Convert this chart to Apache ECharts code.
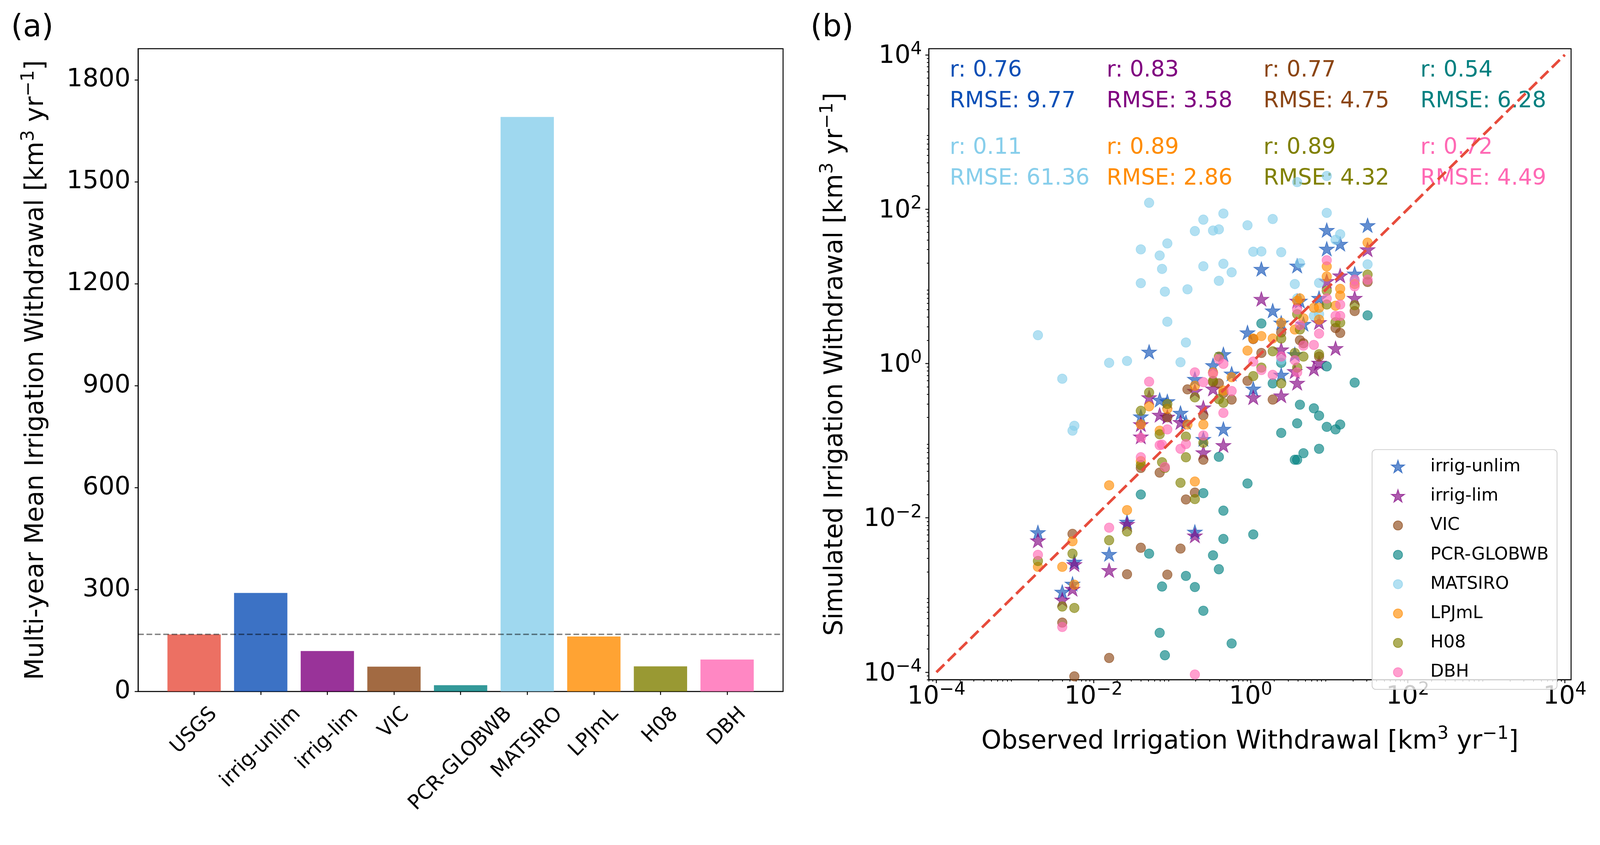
<!DOCTYPE html>
<html>
<head>
<meta charset="utf-8">
<script src="https://cdn.jsdelivr.net/npm/echarts@6.0.0/dist/echarts.min.js"></script>
<style>
  html, body { margin: 0; padding: 0; background: #fff; overflow: hidden; }
  #main { width: 100vw; height: 100vh; }
</style>
</head>
<body>
<div id="main"></div>
<script>
// ---- panel (a): multi-year mean withdrawal ----
const categories = ['USGS', 'irrig-unlim', 'irrig-lim', 'VIC', 'PCR-GLOBWB', 'MATSIRO', 'LPJmL', 'H08', 'DBH'];
const meanWithdrawal = [168, 290, 119, 73, 18.5, 1691, 162, 74, 94];
const yTicksA = [0, 300, 600, 900, 1200, 1500, 1800];

// ---- panel (b): observed vs simulated [obs, sim] ----
const seriesNames = ['irrig-unlim', 'irrig-lim', 'VIC', 'PCR-GLOBWB', 'MATSIRO', 'LPJmL', 'H08', 'DBH'];
const rValues = ['0.76', '0.83', '0.77', '0.54', '0.11', '0.89', '0.89', '0.72'];
const rmseValues = ['9.77', '3.58', '4.75', '6.28', '61.36', '2.86', '4.32', '4.49'];
const logTicks = [1e-4, 1e-2, 1, 1e2, 1e4];
const oneToOne = [1e-4, 1e4];

const irrigUnlim = [[0.00196,0.0065],[0.004,0.0011],[0.0057,0.0027],[0.0054,0.0014],[0.0158,0.0034],[0.0267,0.0089],
  [0.04,0.206],[0.051,1.42],[0.0695,0.339],[0.087,0.324],[0.128,0.229],[0.15,0.174],[0.195,0.63],[0.195,0.0066],
  [0.25,0.105],[0.332,0.95],[0.45,1.32],[0.45,0.142],[0.573,0.74],[0.912,2.53],[1.08,0.472],[1.37,16.8],[1.91,4.85],
  [2.45,3.38],[2.45,0.713],[3.65,1.32],[3.91,18.5],[4.24,6.49],[4.7,3.26],[7.43,7.06],[9.31,53.6],[9.31,30.7],
  [13.8,35.5],[21.1,14.6],[30.8,61.9]];
const irrigLim = [[0.00196,0.0051],[0.004,0.00087],[0.0057,0.0025],[0.0054,0.0012],[0.0158,0.0021],[0.0267,0.0083],
  [0.04,0.163],[0.04,0.113],[0.051,0.364],[0.0695,0.216],[0.087,0.204],[0.128,0.174],[0.195,0.44],[0.195,0.0059],
  [0.25,0.269],[0.25,0.0705],[0.332,0.472],[0.45,0.0875],[1.08,0.364],[1.37,6.87],[2.45,1.52],[2.45,0.385],
  [3.65,0.794],[3.91,6.49],[3.91,0.561],[6.38,0.855],[7.43,3.43],[7.43,1.02],[9.31,11.7],[12.05,1.58],
  [13.8,13.8],[21.1,7.06],[30.8,30.1]];
const vic = [[0.004,0.00044],[0.0057,0.0000883],[0.0054,0.0062],[0.0158,0.000153],[0.0267,0.00186],[0.04,0.0444],
  [0.04,0.0041],[0.0695,0.0386],[0.087,0.201],[0.087,0.00184],[0.128,0.004],[0.15,0.0173],[0.157,0.462],[0.195,0.0213],
  [0.25,0.213],[0.25,0.0566],[0.332,0.574],[0.394,0.553],[0.45,0.414],[0.573,0.341],[0.912,0.596],[1.08,2.07],
  [1.37,1.37],[1.91,0.341],[2.45,2.53],[4.24,2.0],[4.7,1.83],[7.43,1.23],[12.05,2.88],[13.8,2.49],[21.1,4.78],[30.8,11.4]];
const pcrGlobwb = [[0.04,0.0201],[0.051,0.00344],[0.0695,0.000324],[0.0745,0.00129],[0.081,0.000166],[0.15,0.00177],
  [0.195,0.00127],[0.25,0.0209],[0.25,0.000625],[0.332,0.00327],[0.394,0.0618],[0.394,0.00216],[0.45,0.0124],
  [0.45,0.00533],[0.573,0.000236],[0.912,0.0279],[1.08,0.0061],[1.37,3.3],[1.91,0.553],[2.45,1.02],[2.45,0.126],
  [3.65,0.0566],[3.91,0.168],[3.91,0.0566],[4.24,0.293],[4.7,0.0689],[6.38,0.263],[7.43,0.211],[7.43,0.0785],
  [9.31,0.918],[9.31,0.151],[12.05,0.14],[13.8,0.162],[21.1,0.566],[30.8,4.2]];
const matsiro = [[0.00196,2.33],[0.004,0.635],[0.0054,0.135],[0.0057,0.156],[0.0158,1.02],[0.0267,1.08],[0.04,30.1],
  [0.04,11.0],[0.051,121],[0.0695,25.1],[0.0745,16.8],[0.081,8.53],[0.087,36.0],[0.087,3.48],[0.128,1.04],[0.15,1.87],
  [0.157,9.16],[0.195,52.0],[0.25,18.2],[0.25,73.1],[0.332,52.8],[0.394,54.7],[0.394,11.8],[0.45,87.7],[0.45,19.6],
  [0.573,15.2],[0.912,61.9],[1.08,28.1],[1.37,28.3],[1.91,74.6],[2.45,1.12],[2.45,27.7],[3.65,10.7],[3.91,224],
  [3.91,6.97],[4.24,19.9],[6.38,4.14],[7.43,11.1],[7.43,4.36],[9.31,89.5],[9.31,269],[12.05,40.1],[13.8,47.3],
  [21.1,11.6],[30.8,19.3]];
const lpjml = [[0.00196,0.00232],[0.004,0.00232],[0.0054,0.00498],[0.0057,0.00136],[0.0158,0.0264],[0.0267,0.0126],
  [0.04,0.163],[0.04,0.0543],[0.051,0.279],[0.0695,0.135],[0.087,0.259],[0.157,0.162],[0.195,0.515],[0.195,0.0296],
  [0.25,0.162],[0.332,0.767],[0.45,0.446],[0.573,0.664],[0.912,1.47],[1.08,2.11],[1.37,2.27],[1.91,2.11],[2.45,3.38],
  [3.65,2.76],[3.91,6.49],[4.24,6.97],[4.7,3.85],[6.38,5.28],[7.43,5.28],[7.43,3.71],[9.31,18.1],[9.31,13.4],
  [12.05,5.61],[13.8,9.29],[13.8,7.6],[21.1,10.7],[30.8,36.8]];
const h08 = [[0.00196,0.00276],[0.004,0.00071],[0.0054,0.00344],[0.0057,0.00068],[0.0158,0.00513],[0.0267,0.00665],
  [0.04,0.244],[0.04,0.0484],[0.051,0.421],[0.0695,0.121],[0.0745,0.0527],[0.081,0.0444],[0.087,0.299],[0.128,0.0285],
  [0.15,0.113],[0.15,0.061],[0.195,0.364],[0.195,0.0175],[0.25,0.094],[0.332,0.596],[0.394,0.346],[0.394,1.23],
  [0.45,0.31],[1.08,0.687],[1.37,0.885],[1.91,1.44],[2.45,2.11],[2.45,0.553],[3.65,1.37],[3.91,0.885],[3.91,4.36],
  [4.24,2.76],[4.7,1.23],[7.43,1.32],[9.31,8.77],[9.31,5.81],[12.05,3.43],[13.8,3.38],[21.1,5.69],[30.8,14.2]];
const dbh = [[0.00196,0.00332],[0.004,0.000386],[0.0158,0.00746],[0.04,0.109],[0.04,0.061],[0.051,0.582],
  [0.0695,0.0875],[0.0745,0.089],[0.081,0.0456],[0.087,0.14],[0.128,0.0785],[0.15,0.0906],[0.195,0.767],
  [0.195,0.0000933],[0.25,0.574],[0.25,0.117],[0.332,0.74],[0.394,1.14],[0.45,0.989],[0.45,0.229],[0.573,0.44],
  [1.08,1.06],[1.37,0.824],[1.91,0.713],[2.45,1.23],[3.65,1.1],[3.91,5.02],[3.91,0.767],[4.24,3.14],[4.7,1.7],
  [6.38,1.74],[7.43,2.44],[9.31,21.8],[9.31,6.97],[12.05,4.14],[13.8,4.14],[13.8,5.81],[21.1,12.2],[21.1,10.0],[30.8,12.2]];
const pointSets = [irrigUnlim, irrigLim, vic, pcrGlobwb, matsiro, lpjml, h08, dbh];

// ---- styling ----
// layout is written for a 4205 x 2164 page and scaled to the real viewport
const K = Math.min(window.innerWidth / 4205, window.innerHeight / 2164);
function s(v) { return v * K; }

const FONT = 'DejaVu Sans';
const colors = {
  'USGS': '#e74c3c', 'irrig-unlim': '#0b4fb6', 'irrig-lim': '#800080', 'VIC': '#8b4513',
  'PCR-GLOBWB': '#008080', 'MATSIRO': '#87ceeb', 'LPJmL': '#ff8c00', 'H08': '#808000', 'DBH': '#ff69b4'
};
function rgba(hex, a) {
  const n = parseInt(hex.slice(1), 16);
  return 'rgba(' + (n >> 16) + ',' + ((n >> 8) & 255) + ',' + (n & 255) + ',' + a + ')';
}
function starPath(cx, cy, R) {
  const r = R * 0.381966;
  let d = '';
  for (let i = 0; i < 10; i++) {
    const a = -Math.PI / 2 + i * Math.PI / 5;
    const rad = i % 2 ? r : R;
    d += (i ? 'L' : 'M') + (cx + rad * Math.cos(a)).toFixed(2) + ' ' + (cy + rad * Math.sin(a)).toFixed(2);
  }
  return d + 'Z';
}
const STAR = 'path://' + starPath(0, 0, 10);
const STAR_ICON = 'path://M0 0M40 40' + starPath(20, 21, 18.5);
const DOT_ICON = 'path://M0 0M40 40M32 20A12 12 0 1 1 8 20A12 12 0 1 1 32 20Z';

// minor ticks of the log axes (2..9 x 10^n)
const minorTicks = [];
for (let e = -5; e <= 4; e++) {
  for (let k = 2; k <= 9; k++) {
    const v = k * Math.pow(10, e);
    if (v >= 8e-5 && v <= 1.2e4) minorTicks.push(v);
  }
}

// rotated category labels, centred under the tick like matplotlib
const measure = document.createElement('canvas').getContext('2d');
measure.font = s(53) + 'px "' + FONT + '"';
const catRich = {};
categories.forEach(function (c, i) {
  const w = measure.measureText(c).width;
  catRich['l' + i] = { fontSize: s(53), fontFamily: FONT, color: '#000', padding: [w / 2, w / 2, 0, 0] };
});

const unitRich = {
  n: { fontSize: s(67), fontFamily: FONT, color: '#000', padding: [s(10), 0, 0, 0] },
  s: { fontSize: s(47), fontFamily: FONT, color: '#000', verticalAlign: 'top' }
};
function unitName(text) {
  return '{n|' + text + ' [km}{s|3}{n| yr}{s|\u22121}{n|]}';
}
const powRich = {
  b: { fontSize: s(66), fontFamily: FONT, color: '#000', padding: [s(9), 0, 0, 0] },
  s: { fontSize: s(47), fontFamily: FONT, color: '#000', verticalAlign: 'top' }
};
function powLabel(v) {
  const e = Math.round(Math.log10(v));
  if (e % 2 !== 0) return '';
  return '{b|10}{s|' + (e < 0 ? '\u2212' + (-e) : e) + '}';
}

const axisLine = { show: true, onZero: false, lineStyle: { color: '#000', width: s(2.5) } };
const tickStyle = { color: '#000', width: s(2.5) };

function logAxis(gridIndex, isX) {
  const main = {
    type: 'log', logBase: 10, gridIndex: gridIndex, min: 8e-5, max: 1.2e4,
    position: isX ? 'bottom' : 'left',
    axisLine: axisLine,
    axisTick: { show: true, length: s(9), lineStyle: tickStyle, customValues: logTicks },
    axisLabel: {
      show: true, formatter: powLabel, rich: powRich, margin: s(isX ? 4 : 18),
      showMinLabel: false, showMaxLabel: false
    },
    splitLine: { show: false },
    name: unitName(isX ? 'Observed Irrigation Withdrawal' : 'Simulated Irrigation Withdrawal'),
    nameLocation: 'middle', nameGap: s(isX ? 120 : 212),
    nameTextStyle: { rich: unitRich }
  };
  const minor = {
    type: 'log', logBase: 10, gridIndex: gridIndex, min: 8e-5, max: 1.2e4,
    position: isX ? 'bottom' : 'left',
    axisLine: { show: false },
    axisTick: { show: true, length: s(5), lineStyle: { color: '#000', width: s(2) }, customValues: minorTicks },
    axisLabel: { show: false },
    splitLine: { show: false }
  };
  return [main, minor];
}

const scatterSeries = seriesNames.map(function (name, i) {
  const c = colors[name];
  const isStar = i < 2;
  return {
    type: 'scatter', name: name, xAxisIndex: 1, yAxisIndex: 1,
    data: pointSets[i],
    symbol: isStar ? STAR : 'circle',
    symbolSize: s(isStar ? 40 : 25),
    symbolKeepAspect: true,
    itemStyle: { color: rgba(c, 0.8), borderColor: rgba(c, 0.8), borderWidth: s(1.5) },
    emphasis: { disabled: true },
    silent: true
  };
});

const annotations = seriesNames.map(function (name, i) {
  return {
    type: 'text', x: s(2496 + (i % 4) * 412.3), y: s(146 + Math.floor(i / 4) * 203), z: 0,
    style: {
      text: 'r: ' + rValues[i] + '\nRMSE: ' + rmseValues[i],
      fill: colors[name], fontSize: s(58), fontFamily: FONT, lineHeight: s(81), verticalAlign: 'top'
    }
  };
});

const xA = logAxis(1, true);
const yA = logAxis(1, false);
const catIndex = categories.map(function (c, i) { return i; });

const chart = echarts.init(document.getElementById('main'), null, { renderer: 'canvas' });
chart.setOption({
  animation: false,
  backgroundColor: '#fff',
  textStyle: { fontFamily: FONT, color: '#000' },
  grid: [
    { left: s(363), top: s(128), width: s(1695), height: s(1690), show: true, borderColor: '#000', borderWidth: s(2.5), outerBoundsMode: 'none' },
    { left: s(2441), top: s(128), width: s(1688), height: s(1659), show: true, borderColor: '#000', borderWidth: s(2.5), outerBoundsMode: 'none' }
  ],
  xAxis: [
    {
      type: 'value', gridIndex: 0, min: -0.84, max: 8.84,
      axisLine: axisLine,
      axisTick: { show: true, length: s(9), lineStyle: tickStyle, customValues: catIndex },
      axisLabel: {
        customValues: catIndex,
        rotate: 45, align: 'center', verticalAlign: 'middle', margin: s(51),
        formatter: function (v) { return '{l' + v + '|' + categories[v] + '}'; },
        rich: catRich
      },
      splitLine: { show: false }
    },
    xA[0], xA[1]
  ],
  yAxis: [
    {
      type: 'value', gridIndex: 0, min: 0, max: 1892, interval: 300,
      axisLine: axisLine,
      axisTick: { show: true, length: s(9), lineStyle: tickStyle, customValues: yTicksA },
      axisLabel: {
        customValues: yTicksA, fontSize: s(66), fontFamily: FONT, color: '#000', margin: s(20),
        formatter: function (v) { return String(v); }
      },
      splitLine: { show: false },
      name: unitName('Multi-year Mean Irrigation Withdrawal'),
      nameLocation: 'middle', nameGap: s(234),
      nameTextStyle: { rich: unitRich }
    },
    yA[0], yA[1]
  ],
  legend: {
    orient: 'vertical', left: s(3606), top: s(1182),
    padding: [s(22), s(22), s(22), s(47)], itemGap: s(31), itemWidth: s(40), itemHeight: s(40),
    borderColor: '#cccccc', borderWidth: s(2), borderRadius: s(10),
    backgroundColor: 'rgba(255,255,255,0.8)',
    textStyle: { fontSize: s(46), fontFamily: FONT, color: '#000', padding: [0, 0, 0, s(60)] },
    selectedMode: false,
    data: seriesNames.map(function (n, i) { return { name: n, icon: i < 2 ? STAR_ICON : DOT_ICON }; })
  },
  graphic: annotations.concat([
    { type: 'text', x: s(29), y: s(75), style: { text: '(a)', fontSize: s(80), fontFamily: FONT, fill: '#000', verticalAlign: 'middle' } },
    { type: 'text', x: s(2130), y: s(75), style: { text: '(b)', fontSize: s(80), fontFamily: FONT, fill: '#000', verticalAlign: 'middle' } }
  ]),
  series: [
    {
      type: 'bar', xAxisIndex: 0, yAxisIndex: 0, barWidth: '80%',
      data: meanWithdrawal.map(function (v, i) {
        return { value: [i, v], itemStyle: { color: rgba(colors[categories[i]], 0.8) } };
      }),
      silent: true,
      markLine: {
        silent: true, symbol: 'none', label: { show: false },
        lineStyle: { color: 'rgba(0,0,0,0.5)', width: s(3.5), type: [s(15), s(7)] },
        data: [{ yAxis: meanWithdrawal[0] }]
      }
    }
  ].concat(scatterSeries).concat([
    {
      type: 'line', xAxisIndex: 1, yAxisIndex: 1, silent: true,
      data: oneToOne.map(function (v) { return [v, v]; }),
      symbol: 'none',
      lineStyle: { color: '#e74c3c', width: s(7), type: [s(29), s(13)] }
    }
  ])
});
</script>
</body>
</html>
